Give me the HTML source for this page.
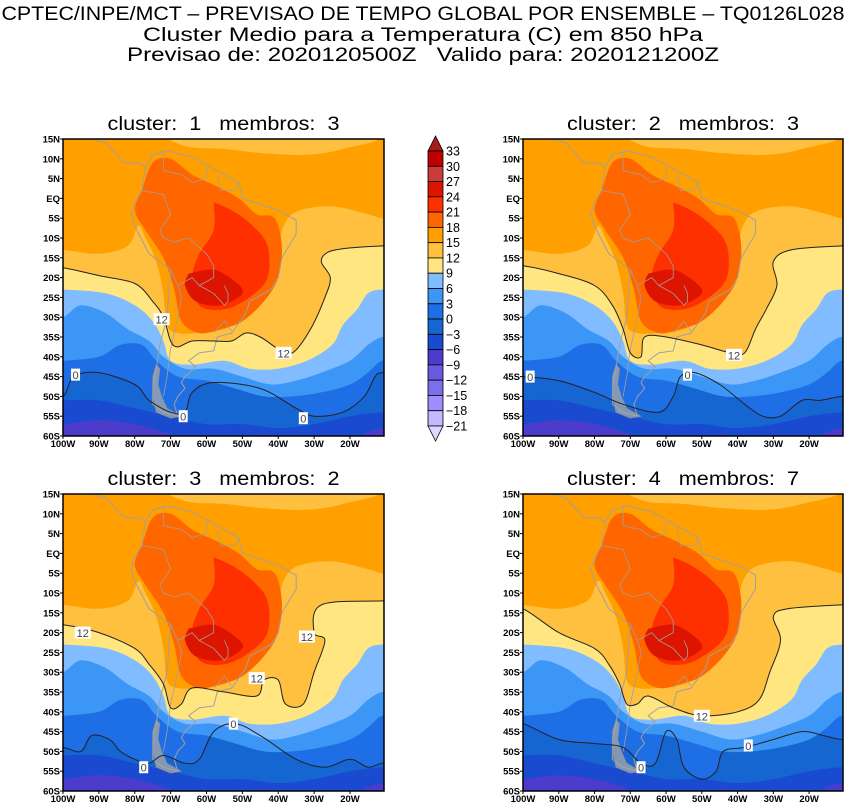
<!DOCTYPE html>
<html><head><meta charset="utf-8">
<style>
html,body{margin:0;padding:0;background:#fff;}
svg{display:block;}
text{white-space:pre;}
</style></head>
<body>
<svg id="chart" width="847" height="803" viewBox="0 0 847 803" xmlns="http://www.w3.org/2000/svg">
<g font-family="Liberation Sans, sans-serif" font-size="19" fill="#000" text-anchor="middle">
<text x="423" y="20" textLength="843" lengthAdjust="spacingAndGlyphs">CPTEC/INPE/MCT – PREVISAO DE TEMPO GLOBAL POR ENSEMBLE – TQ0126L028</text>
<text x="423" y="41" textLength="560" lengthAdjust="spacingAndGlyphs">Cluster Medio para a Temperatura (C) em 850 hPa</text>
<text x="423" y="61" textLength="592" lengthAdjust="spacingAndGlyphs">Previsao de: 2020120500Z   Valido para: 2020121200Z</text>
</g>
<g id="panels"></g>
<g id="colorbar"></g>
</svg>
<script>
// ---- data ----
const levelColors = ["#4c3ccc","#1a4ad0","#1666d2","#1e6ee6","#3c96f5","#80bcff","#ffe680","#ffc040","#ffa000","#ff6600","#ff3000","#dd1500"];
const cbLabels = ["33","30","27","24","21","18","15","12","9","6","3","0","−3","−6","−9","−12","−15","−18","−21"];
const cbColors = ["#c00000","#cc3a3a","#dd1500","#ff3000","#ff6600","#ffa000","#ffc040","#ffe680","#80bcff","#3c96f5","#1e6ee6","#1666d2","#1a4ad0","#4c3ccc","#6a5ae0","#7a70ee","#a08cff","#c4b8ff"];
const latTicks = [15,10,5,0,-5,-10,-15,-20,-25,-30,-35,-40,-45,-50,-55,-60];
const latLabels = ["15N","10N","5N","EQ","5S","10S","15S","20S","25S","30S","35S","40S","45S","50S","55S","60S"];
const lonTicks = [-100,-90,-80,-70,-60,-50,-40,-30,-20];
const lonLabels = ["100W","90W","80W","70W","60W","50W","40W","30W","20W"];

const cM6 = [[-100,-57],[-90,-56],[-80,-57],[-72,-59],[-65,-61],[-50,-61],[-44,-59.5],[-38,-61],[-20,-61],[-15,-59],[-11,-58]];
const cM3 = [[-100,-51],[-90,-51],[-80,-53],[-70,-55],[-60,-57],[-50,-57],[-40,-58],[-30,-57],[-20,-55],[-11,-54]];
const c3 = [[-100,-41],[-90,-40],[-84,-37],[-78,-37],[-74,-41],[-68,-45],[-60,-46],[-52,-48],[-44,-50],[-36,-50],[-28,-49],[-20,-47],[-15,-44],[-11,-41]];
const c6 = [[-100,-30],[-95,-27],[-88,-29],[-82,-33],[-76,-36],[-72,-40],[-66,-43],[-58,-43],[-50,-45],[-42,-47],[-35,-46],[-28,-44],[-20,-41],[-15,-37],[-11,-35]];
const c9 = [[-100,-23],[-88,-24],[-80,-27],[-75,-31],[-72,-36],[-70,-41],[-64,-42],[-55,-41],[-48,-43],[-40,-43],[-32,-41],[-25,-37],[-22,-32],[-18,-28],[-15,-24],[-11,-23]];
const c15 = [[-100,-13],[-90,-14],[-82,-12],[-79,-7],[-77,-10],[-74,-16],[-72,-24],[-71,-32],[-68,-34],[-62,-34],[-55,-33],[-50,-30],[-46,-26],[-42,-20],[-40,-12],[-38,-6],[-34,-3],[-25,-2],[-15,-4],[-11,-5]];
const topPatch = [[-72,15.5],[-65,13],[-55,12.5],[-45,11.5],[-32,11],[-22,12.5],[-15,15.5]];
const blob18 = [[-78,2],[-75,9],[-70,10],[-64,6],[-57,3],[-51,0],[-46,-4],[-41,-5],[-39,-12],[-40,-20],[-44,-26],[-50,-31],[-56,-33],[-62,-34],[-67,-31],[-69,-23],[-72,-15],[-77,-8],[-80,-3]];
const blob21 = [[-58,-1],[-53,-3],[-47,-7],[-43,-12],[-43,-20],[-48,-25],[-55,-28],[-62,-27],[-64,-20],[-62,-14],[-58,-8]];
const blob24 = [[-65,-19],[-58,-18],[-52,-21],[-50,-24],[-56,-27],[-63,-26],[-66,-22]];
const coast = [[-92,15],[-88,14],[-86,12],[-83,9],[-79,9],[-77,8],[-75,11],[-71,12],[-64,10.5],[-60,8.5],[-55,6],[-51,4],[-50,0],[-45,-1.5],[-40,-3],[-35,-5.5],[-35,-9],[-39,-15],[-40,-20],[-42,-23],[-48,-26],[-49,-29],[-53,-34],[-57,-35],[-58,-38.5],[-62,-39],[-65,-41],[-63,-42.5],[-66,-45],[-67,-46.5],[-66,-48],[-68,-50],[-69,-52],[-68,-55],[-72,-54],[-75,-52],[-75,-47],[-74,-43],[-73,-37],[-71,-30],[-70,-18],[-76,-14],[-80,-7],[-81,-4],[-80,-1],[-78,2],[-77,8]];
const borders = [[[-70,-18],[-68,-22],[-67,-25],[-68,-30],[-70,-38],[-71,-45],[-72,-50]],[[-69,-11],[-65,-10],[-60,-14],[-58,-17],[-58,-20],[-62,-22],[-58,-24],[-55,-27],[-54,-26],[-54,-24],[-55,-22]],[[-78,2],[-72,1],[-70,-4],[-73,-8],[-72,-10],[-69,-11]],[[-72,12],[-72,7],[-67,6],[-64,4],[-60,5],[-60,8]],[[-58,-34],[-55,-31],[-53,-33.5]],[[-57,6],[-56,2],[-52,2],[-51,4]],[[-62,-22],[-64,-20],[-68,-22]]];
const fjords = [[-74,-42],[-73,-43],[-73.5,-47],[-72.5,-50],[-71,-53],[-67,-55],[-70,-55.5],[-74,-54],[-75,-50],[-75,-45]];

const p1c12 = [[-100,-17.5],[-90,-19.5],[-80,-21.5],[-75,-26],[-72,-30],[-70,-36],[-68,-37.5],[-64,-36],[-58,-36],[-53,-36],[-49,-34],[-45,-35],[-40,-38],[-36,-39],[-31,-33],[-27,-25],[-25.5,-20],[-28,-16],[-26,-13.5],[-20,-12.5],[-11,-12]];
const p1c0 = [[-100,-50],[-97,-45],[-90,-44],[-80,-47],[-76,-51],[-70,-54],[-66,-54],[-64,-49],[-58,-46.5],[-45,-48],[-35,-53],[-30,-55],[-22,-54],[-16,-50],[-13,-45],[-11,-44]];
const p2c12 = [[-100,-17],[-90,-19],[-80,-22],[-75,-27],[-72,-33],[-70,-39],[-67,-40],[-66,-35],[-60,-35],[-50,-37],[-42,-39],[-38,-39],[-35,-33],[-32,-28],[-29,-22],[-30,-16],[-25,-13],[-11,-12]];
const p2c0 = [[-100,-45],[-90,-46],[-80,-49],[-72,-52],[-62,-54],[-58,-50],[-56,-45],[-52,-44],[-45,-47],[-38,-52],[-33,-55],[-28,-55],[-22,-51],[-17,-51],[-11,-50]];
const p3c12 = [[-100,-18],[-90,-20],[-80,-24],[-76,-28],[-72,-33],[-70,-39],[-67,-38],[-64,-34],[-55,-35],[-46,-36],[-44,-32],[-40,-32],[-38,-38],[-33,-38],[-30,-30],[-27,-22],[-30,-20],[-28,-13],[-11,-12]];
const p3c0 = [[-100,-49],[-95,-50],[-92,-46],[-87,-47],[-84,-50],[-80,-52],[-76,-53],[-72,-51],[-66,-53],[-62,-52],[-58,-45],[-52,-43],[-45,-46],[-35,-52],[-27,-54],[-20,-52],[-15,-54],[-11,-53]];
const p4c12 = [[-100,-14],[-90,-20],[-80,-24],[-76,-28],[-73,-33],[-71,-38],[-68,-38],[-65,-36],[-58,-39],[-50,-41],[-40,-40],[-34,-37],[-31,-30],[-28,-22],[-30,-16],[-26,-14],[-11,-13]];
const p4c0 = [[-100,-43],[-90,-47],[-80,-48],[-72,-49],[-67,-53],[-63,-53],[-60,-45],[-57,-47],[-55,-54],[-50,-57],[-46,-55],[-44,-50],[-38,-49],[-30,-47],[-22,-45],[-16,-46],[-11,-47]];

const panelTitles = ["cluster:  1   membros:  3","cluster:  2   membros:  3","cluster:  3   membros:  2","cluster:  4   membros:  7"];
const panelC12 = [p1c12,p2c12,p3c12,p4c12];
const panelC0 = [p1c0,p2c0,p3c0,p4c0];
const labels12 = [[[-72.5,-30.5],[-38.5,-39]],[[-41,-39.5]],[[-94.5,-20],[-46,-31.5],[-32,-21]],[[-50,-41]]];
const labels0 = [[[-96.5,-44.5],[-66.5,-55],[-33,-55.5]],[[-98,-45],[-54,-44.5]],[[-77.5,-54],[-52.5,-43]],[[-67,-54],[-37,-48.5]]];

// ---- layout ----
const frames = [[63,139,321,297],[523,139,320,297],[63,494,321,297],[523,494,320,297]];
const NS = "http://www.w3.org/2000/svg";
function mk(tag, attrs, parent){const e=document.createElementNS(NS,tag);for(const k in attrs)e.setAttribute(k,attrs[k]);parent.appendChild(e);return e;}
function smooth(pts){
  let d="M"+pts[0][0]+","+pts[0][1];
  for(let i=0;i<pts.length-1;i++){
    const p0=pts[Math.max(i-1,0)],p1=pts[i],p2=pts[i+1],p3=pts[Math.min(i+2,pts.length-1)];
    const c1=[p1[0]+(p2[0]-p0[0])/6,p1[1]+(p2[1]-p0[1])/6],c2=[p2[0]-(p3[0]-p1[0])/6,p2[1]-(p3[1]-p1[1])/6];
    d+="C"+c1[0].toFixed(1)+","+c1[1].toFixed(1)+" "+c2[0].toFixed(1)+","+c2[1].toFixed(1)+" "+p2[0].toFixed(1)+","+p2[1].toFixed(1);
  }
  return d;
}
const panelsG=document.getElementById("panels");
frames.forEach((f,pi)=>{
  const [x0,y0,w,h]=f;
  const xs=lon=>x0+(lon+100)*3.5875*(w/321);
  const ys=lat=>y0+(15-lat)*h/75;
  const P=arr=>arr.map(p=>[xs(p[0]),ys(p[1])]);
  const g=mk("g",{},panelsG);
  
  
  const cid="clip"+pi;
  const cp=mk("clipPath",{id:cid},g);mk("rect",{x:x0,y:y0,width:w,height:h},cp);
  const mg=mk("g",{"clip-path":"url(#"+cid+")"},g);
  mk("rect",{x:x0,y:y0,width:w,height:h,fill:levelColors[0]},mg);
  const north=(arr,color,name)=>{
    const pts=P(arr);const first=[x0-20,pts[0][1]],last=[x0+w+20,pts[pts.length-1][1]];
    const all=[first].concat(pts,[last]);
    const el=mk("path",{d:smooth(all)+"L"+(x0+w+20)+","+(y0-20)+"L"+(x0-20)+","+(y0-20)+"Z",fill:color},mg);
    
    
  };
  const blob=(arr,color,name)=>{
    const pts=P(arr);pts.push(pts[0]);
    const el=mk("path",{d:smooth(pts)+"Z",fill:color},mg);
    
    
  };
  north(cM6,levelColors[1],"band-minus6");
  north(cM3,levelColors[2],"band-minus3");
  north(panelC0[pi],levelColors[3],"band-0");
  north(c3,levelColors[4],"band-3");
  north(c6,levelColors[5],"band-6");
  north(c9,levelColors[6],"band-9");
  north(panelC12[pi],levelColors[7],"band-12");
  north(c15,levelColors[8],"band-15");
  blob(topPatch,levelColors[7],"north-patch-12");
  blob(blob18,levelColors[9],"band-18");
  blob(blob21,levelColors[10],"band-21");
  blob(blob24,levelColors[11],"band-24");
  const cst=mk("path",{d:"M"+P(coast).map(p=>p.join(",")).join("L"),fill:"none",stroke:"#a0a0a0","stroke-width":1},mg);
  
  
  borders.forEach(b=>{
    const be=mk("path",{d:"M"+P(b).map(p=>p.join(",")).join("L"),fill:"none",stroke:"#a0a0a0","stroke-width":0.8},mg);
    
    
  });
  const fj=mk("path",{d:"M"+P(fjords).map(p=>p.join(",")).join("L")+"Z",fill:"#a8a8a8","fill-opacity":0.75,stroke:"#909090","stroke-width":0.6},mg);
  
  
  [panelC12[pi],panelC0[pi]].forEach((c,ci)=>{
    const pts=P(c);const all=[[x0-20,pts[0][1]]].concat(pts,[[x0+w+20,pts[pts.length-1][1]]]);
    const l=mk("path",{d:smooth(all),fill:"none",stroke:"#222","stroke-width":1},mg);
    
    
  });
  [[labels12[pi],"12"],[labels0[pi],"0"]].forEach(([arr,txt])=>{
    arr.forEach(p=>{
      const X=xs(p[0]),Y=ys(p[1]);const bw=txt.length*7+2;
      const r=mk("rect",{x:X-bw/2,y:Y-6,width:bw,height:12,fill:"#fff"},mg);
      
      
      const t=mk("text",{x:X,y:Y+4.5,"font-family":"Liberation Sans, sans-serif","font-size":11,"text-anchor":"middle",fill:"#444"},mg);
      t.textContent=txt;
      
      
    });
  });
  const fr=mk("rect",{x:x0,y:y0,width:w,height:h,fill:"none",stroke:"#000","stroke-width":1.5},g);
  
  
  const tt=mk("text",{x:x0+w/2,y:y0-9,"font-family":"Liberation Sans, sans-serif","font-size":19,"text-anchor":"middle",textLength:232,lengthAdjust:"spacingAndGlyphs"},g);
  tt.textContent=panelTitles[pi];
  
  
  latTicks.forEach((lat,i)=>{
    const Y=ys(lat);
    mk("line",{x1:x0-3,x2:x0,y1:Y,y2:Y,stroke:"#000"},g);
    const t=mk("text",{x:x0-3,y:Y+3.5,"font-family":"Liberation Sans, sans-serif","font-size":9.5,"font-weight":"bold","text-anchor":"end"},g);
    t.textContent=latLabels[i];
    
    
  });
  lonTicks.forEach((lon,i)=>{
    const X=xs(lon);
    mk("line",{x1:X,x2:X,y1:y0+h,y2:y0+h+3,stroke:"#000"},g);
    const t=mk("text",{x:X,y:y0+h+11,"font-family":"Liberation Sans, sans-serif","font-size":9.5,"font-weight":"bold","text-anchor":"middle"},g);
    t.textContent=lonLabels[i];
    
    
  });
});
const cb=document.getElementById("colorbar");
const cx=428,cw=15,ct=151,step=275/18;
const tri1=mk("path",{d:`M${cx},${ct}L${cx+cw/2},${ct-15}L${cx+cw},${ct}Z`,fill:"#a81c1c",stroke:"#000","stroke-width":0.8},cb);


cbColors.forEach((c,i)=>{
  const r=mk("rect",{x:cx,y:ct+i*step,width:cw,height:step,fill:c,stroke:"#000","stroke-width":0.8},cb);
  
  
});
const yb=ct+18*step;
const tri2=mk("path",{d:`M${cx},${yb}L${cx+cw/2},${yb+15}L${cx+cw},${yb}Z`,fill:"#dcd8ff",stroke:"#000","stroke-width":0.8},cb);


cbLabels.forEach((l,i)=>{
  const t=mk("text",{x:cx+cw+3,y:ct+i*step+4.5,"font-family":"Liberation Sans, sans-serif","font-size":12.5},cb);
  t.textContent=l;
  
  
});
</script>
</body></html>
